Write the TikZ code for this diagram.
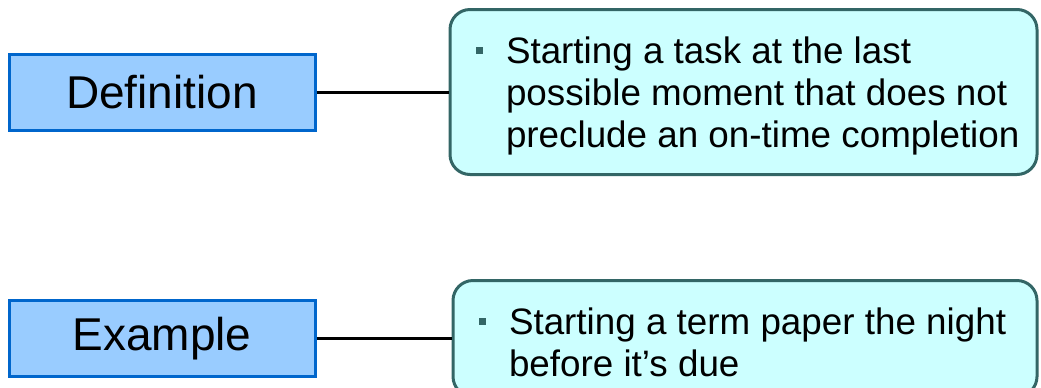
\documentclass[tikz,border=0pt]{standalone}
\usepackage{fontspec}
\setmainfont{Liberation Sans}
\newlength\px
\setlength\px{0.75pt}
\definecolor{headfill}{HTML}{99CCFF}
\definecolor{headline}{HTML}{0066CC}
\definecolor{notefill}{HTML}{CCFFFF}
\definecolor{noteline}{HTML}{336666}
% bulleted text of a note box: #1 width, #2 height, #3 lines
\newcommand{\notetext}[3]{\parbox[c][#2\px][t]{#1\px}{\rule{0pt}{54\px}\hspace*{26\px}%
\raisebox{10\px}{\textcolor{noteline}{\rule{7\px}{7\px}}}\hspace{23\px}%
\parbox[t]{540\px}{\raggedright #3}}}
\begin{document}
\begin{tikzpicture}[x=\px, y=-\px, line width=3\px,
head node/.style={rectangle,draw=headline,fill=headfill,minimum width=306\px,minimum height=76\px,inner sep=0pt,font=\fontsize{34.5pt}{41pt}\selectfont},
note node/.style={rectangle,rounded corners=20\px,draw=noteline,fill=notefill,inner sep=0pt,font=\fontsize{27.6pt}{31.5pt}\selectfont}]
\useasboundingbox (0,0) rectangle (1041,387);
\begin{scope}
\node[head node] (def) at (162,92) {Definition};
\node[head node] (ex) at (162,338.5) {Example};
\node[note node] (defnote) at (743.5,92) {\notetext{587}{165}{Starting a task at the last\\possible moment that does not\\preclude an on-time completion}};
\node[note node] (exnote) at (745,338.5) {\notetext{584}{116}{Starting a term paper the night\\before it’s due}};
%\node[head node] () at (,) {};
\end{scope}
\begin{scope}
\draw (def) edge (defnote);
\draw (ex) edge (exnote);
\end{scope}
\end{tikzpicture}
\end{document}
